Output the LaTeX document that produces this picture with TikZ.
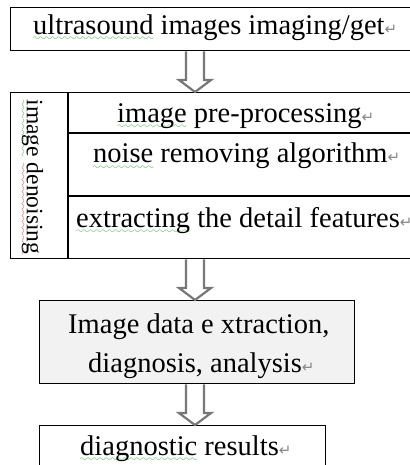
\documentclass[tikz,border=0pt]{standalone}
\usepackage{fontspec}
\setmainfont{Liberation Serif}
\newfontfamily\symfont{DejaVu Sans}
\usetikzlibrary{calc}
\definecolor{wgreen}{RGB}{30,150,30}
\definecolor{wred}{RGB}{230,20,20}
\definecolor{pmgray}{RGB}{135,135,135}
\definecolor{arrowgray}{RGB}{120,120,120}
\definecolor{boxfill}{RGB}{242,242,242}
\font\wavefont=lasy10 at 9pt
\newsavebox\wavebox
\newcommand\wv[2]{\sbox\wavebox{#2}\leavevmode\rlap{\textcolor{#1}{\lower6pt\hbox to \wd\wavebox{\xleaders\hbox{\wavefont\char58}\hfill}}}\usebox\wavebox}
\newcommand\pmark{{\symfont\fontsize{15}{15}\selectfont\textcolor{pmgray}{↵}}}
\newcommand\blockarrow[2]{\draw[harrow] let \p1=(ax |- #1.south), \p2=(ax |- #2.north) in
  (\x1-9pt,\y1) -- (\x1-9pt,\y2+12pt) -- (\x1-16pt,\y2+12pt) -- (\x1,\y2)
  -- (\x1+16pt,\y2+12pt) -- (\x1+9pt,\y2+12pt) -- (\x1+9pt,\y1);}
\begin{document}
\begin{tikzpicture}[x=1pt,y=-1pt,
  box/.style={draw=black, line width=1.3pt, inner sep=0pt, anchor=north west},
  rule/.style={draw=black, line width=1.3pt},
  txt/.style={font=\fontsize{28.5}{30}\selectfont, inner sep=0pt, anchor=base west},
  harrow/.style={draw=arrowgray, line width=2.2pt, fill=white, line join=miter}]
\useasboundingbox (0,0) rectangle (409,465);
\fill[white] (0,0) rectangle (409,465);
\coordinate (ax) at (195,0);
% boxes
\node[box, minimum width=402, minimum height=43] (top) at (10,7) {};
\node[box, minimum width=402, minimum height=166] (mid) at (10,92) {};
\node[box, fill=boxfill, minimum width=315, minimum height=83] (ana) at (39,300) {};
\node[box, minimum width=286, minimum height=46] (res) at (39,425) {};
% table rules
\coordinate (d1) at (68,92);
\coordinate (d2) at (68,258);
\coordinate (r1) at (68,133);
\coordinate (r2) at (68,196);
\draw[rule] (d1) -- (d2);
\draw[rule] (r1) -- (r1 -| mid.east);
\draw[rule] (r2) -- (r2 -| mid.east);
% texts
\node[txt] (t1) at (33,35) {\wv{wgreen}{ultrasound} images imaging/get\pmark};
\node[txt] (t2) at (117,123) {\wv{wgreen}{image} pre-processing\pmark};
\node[txt] (t3) at (93,163) {\wv{wgreen}{noise} removing algorithm\pmark};
\node[txt] (t4) at (76,227) {\wv{wgreen}{extracting} the detail features\pmark};
\node[txt] (t5) at (68,333) {Image data e xtraction,};
\node[txt] (t6) at (88,372) {diagnosis, analysis\pmark};
\node[txt] (t7) at (80,455) {\wv{wgreen}{diagnostic} results\pmark};
\node[font=\fontsize{23.5}{25}\selectfont, inner sep=0pt, rotate=-90] (side) at (32,177) {\wv{wgreen}{image} \wv{wred}{denoising}};
% arrows
\blockarrow{top}{mid}
\blockarrow{mid}{ana}
\blockarrow{ana}{res}
\end{tikzpicture}
\end{document}
